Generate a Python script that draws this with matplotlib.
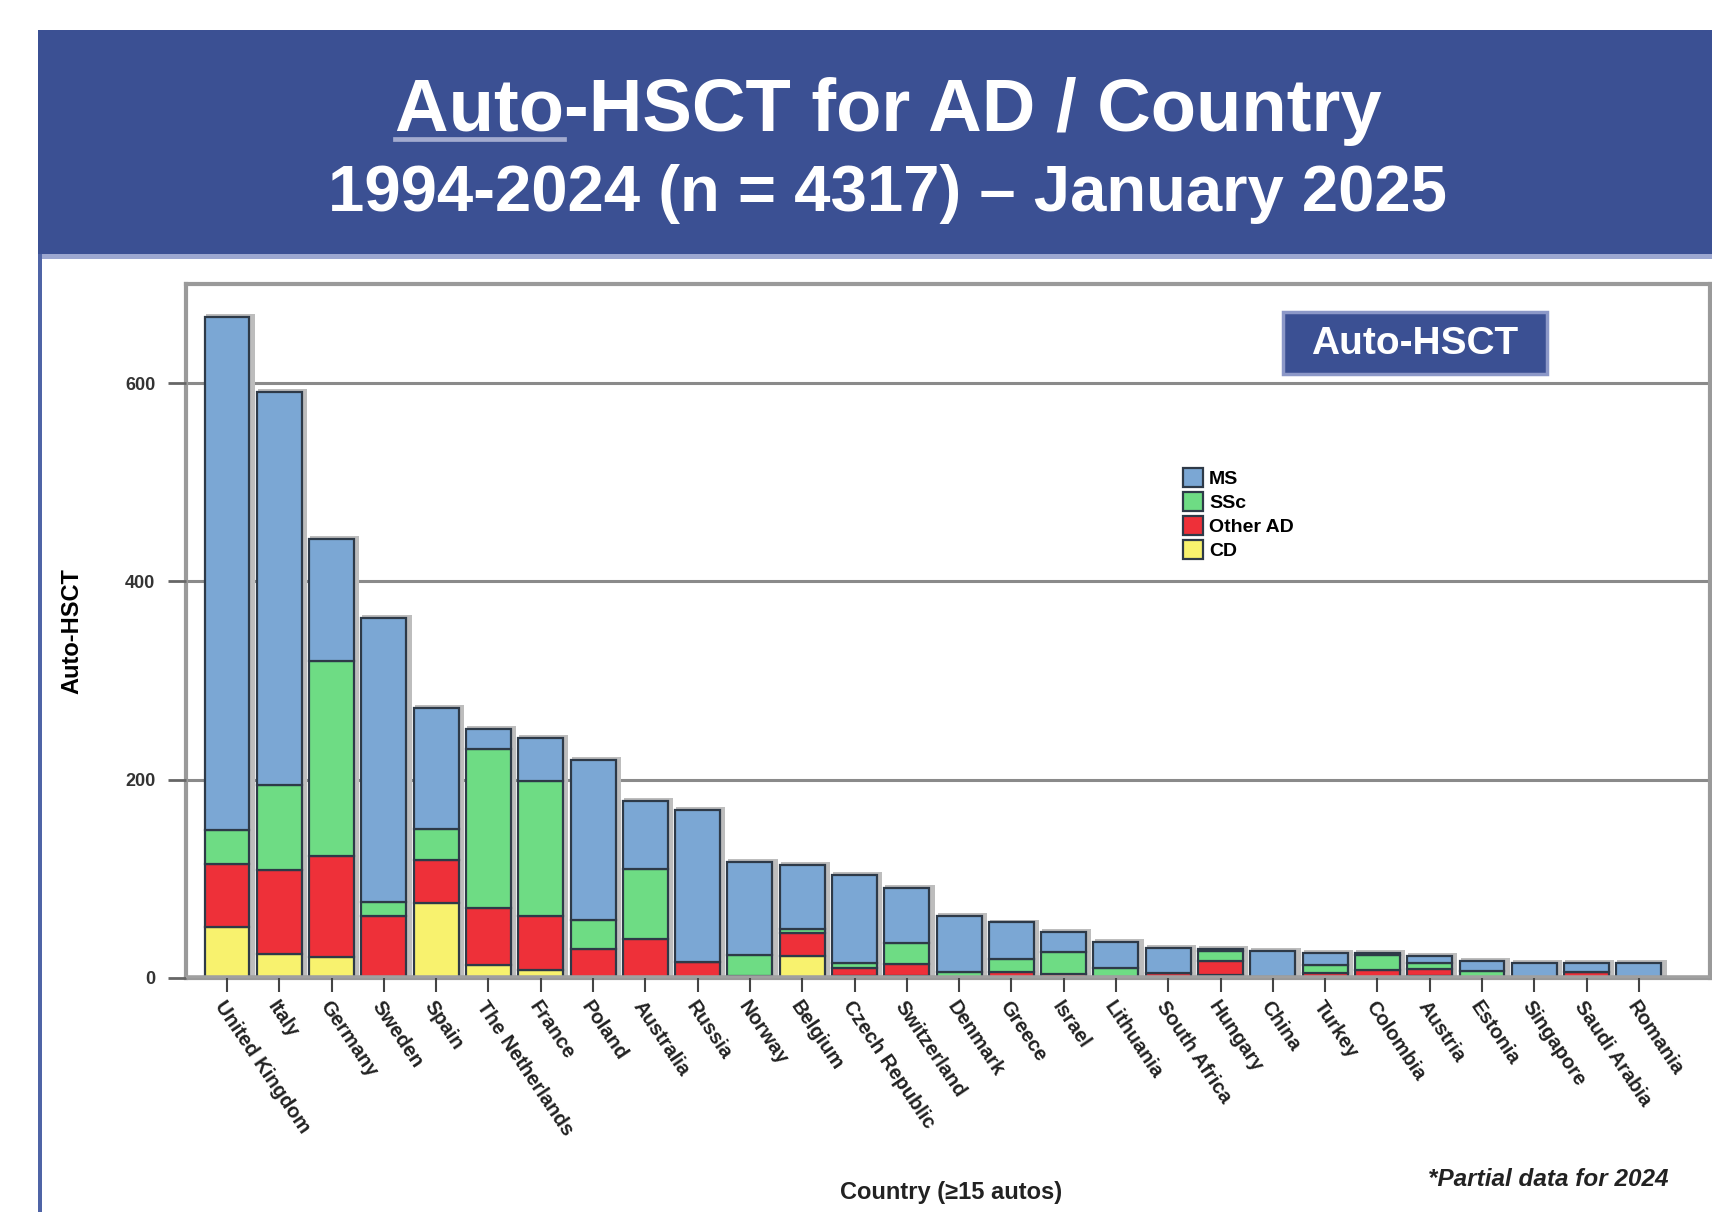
import matplotlib
matplotlib.use("Agg")
import matplotlib.pyplot as plt
from matplotlib.patches import Rectangle
from matplotlib.lines import Line2D
import numpy as np

countries = ["United Kingdom", "Italy", "Germany", "Sweden", "Spain", "The Netherlands",
             "France", "Poland", "Australia", "Russia", "Norway", "Belgium",
             "Czech Republic", "Switzerland", "Denmark", "Greece", "Israel", "Lithuania",
             "South Africa", "Hungary", "China", "Turkey", "Colombia", "Austria",
             "Estonia", "Singapore", "Saudi Arabia", "Romania"]
cd       = [51, 24, 21, 1, 76, 13, 8, 0, 0, 0, 0, 22, 2, 2, 0, 0, 0, 0, 0, 3, 0, 0, 0, 2, 0, 0, 0, 0]
other_ad = [64, 85, 102, 62, 43, 58, 55, 29, 39, 16, 2, 23, 8, 12, 0, 6, 4, 1, 5, 14, 1, 5, 8, 7, 0, 0, 6, 0]
ssc      = [34, 86, 197, 14, 31, 160, 136, 30, 71, 0, 21, 4, 5, 21, 6, 13, 22, 9, 0, 10, 0, 8, 15, 6, 7, 0, 0, 0]
ms       = [518, 396, 123, 286, 122, 20, 43, 161, 69, 153, 94, 65, 89, 56, 57, 37, 20, 26, 25, 2, 26, 12, 2, 7, 10, 15, 9, 15]

series = [("CD", cd, "#F8F26E"), ("Other AD", other_ad, "#EE3039"),
          ("SSc", ssc, "#6EDC84"), ("MS", ms, "#7BA7D4")]
yticks = [0, 200, 400, 600]

W, H = 1712, 1212
fig = plt.figure(figsize=(W / 100, H / 100), dpi=100)
fig.patch.set_facecolor("white")
plt.rcParams['font.family'] = ['Liberation Sans', 'DejaVu Sans']

header = "#3B5093"
# header band
fig.patches.append(Rectangle((38 / W, 1 - 254 / H), 1 - 38 / W, 224 / H,
                             transform=fig.transFigure, facecolor=header, edgecolor="none", zorder=0))
fig.patches.append(Rectangle((38 / W, 1 - 259 / H), 1 - 38 / W, 5 / H,
                             transform=fig.transFigure, facecolor="#9CA7D0", edgecolor="none", zorder=0))
fig.patches.append(Rectangle((38 / W, 0), 4 / W, 1 - 254 / H,
                             transform=fig.transFigure, facecolor="#4F64A6", edgecolor="none", zorder=0))

title1 = "Auto-HSCT for AD / Country"
T1 = 53.5
t1 = fig.text(888 / W, 1 - 131 / H, title1, color="white", fontsize=T1, fontweight="bold",
              ha="center", va="baseline")
fig.text(888 / W, 1 - 211 / H, "1994-2024 (n = 4317) \u2013 January 2025", color="white",
         fontsize=47, fontweight="bold", ha="center", va="baseline")

# underline "Auto"
fig.canvas.draw()
r = fig.canvas.get_renderer()
bb = t1.get_window_extent(r)
tmp = fig.text(0, 0, "Auto", fontsize=T1, fontweight="bold")
wa = tmp.get_window_extent(r).width
tmp.remove()
x0 = bb.x0 / W
fig.lines.append(Line2D([x0, x0 + wa / W], [1 - 139 / H, 1 - 139 / H], transform=fig.transFigure,
                        color="#A3ABCF", linewidth=3.4))

ax = fig.add_axes([186 / W, 1 - 978 / H, (1710 - 186) / W, (978 - 284) / H])
x = np.arange(len(countries))
totals = np.sum([cd, other_ad, ssc, ms], axis=0)

# shadow
ax.bar(x + 0.06, totals + 3, width=0.94, color="#BDBDBD", edgecolor="none", zorder=1)

bottom = np.zeros(len(countries))
handles = {}
for name, vals, col in series:
    v = np.array(vals, dtype=float)
    b = ax.bar(x, v, width=0.86, bottom=bottom, color=col, edgecolor="#2E3A48",
               linewidth=1.6, zorder=3)
    handles[name] = b
    bottom += v

ax.set_xlim(-0.784, 28.36)
ax.set_ylim(0, 700)
ax.set_yticks(yticks)
ax.set_yticklabels([str(t) for t in yticks], fontsize=13, fontweight="bold", color="#333333")
for t in yticks[1:]:
    ax.axhline(t, color="#8A8A8A", linewidth=2.2, zorder=0.5)
ax.axhline(0, color="#A0A0A0", linewidth=4, zorder=4)
ax.tick_params(axis="y", length=13, width=2, color="#666666", pad=9)
ax.tick_params(axis="x", length=10, width=1.5, color="#444444", pad=4)
ax.set_xticks(x)
ax.set_xticklabels(countries, rotation=-56, ha="left", va="top", rotation_mode="anchor",
                   fontsize=14.5, fontweight="bold", color="#222222")
for s in ax.spines.values():
    s.set_color("#9A9A9A")
    s.set_linewidth(3)
ax.set_ylabel("Auto-HSCT", fontsize=17, fontweight="bold", labelpad=30)
ax.set_axisbelow(False)

# x label and note
fig.text(951 / W, 1 - 1193 / H, "Country (\u226515 autos)", fontsize=17, fontweight="bold",
         ha="center", va="center", color="#222222")
fig.text(1668 / W, 1 - 1179 / H, "*Partial data for 2024", fontsize=17.5, fontstyle="italic",
         fontweight="bold", ha="right", va="center", color="#222222")

# Auto-HSCT box
fig.patches.append(Rectangle((1283 / W, 1 - 374 / H), (1547 - 1283) / W, (374 - 312) / H,
                             transform=fig.transFigure, facecolor=header, edgecolor="#8C98C8",
                             linewidth=2.5, zorder=5))
fig.text((1283 + 1547) / 2 / W, 1 - 344 / H, "Auto-HSCT", fontsize=28, fontweight="bold",
         color="white", ha="center", va="center", zorder=6)

order = ["MS", "SSc", "Other AD", "CD"]
leg = ax.legend([handles[n] for n in order], order, loc="upper left",
                bbox_to_anchor=((1175 - 186) / (1710 - 186), (978 - 460) / (978 - 284)),
                frameon=False, fontsize=14, handlelength=1.05, handleheight=1.15,
                handletextpad=0.3, labelspacing=0.2, borderaxespad=0)
for t in leg.get_texts():
    t.set_fontweight("bold")

fig.savefig("out.png", dpi=100, facecolor="white")
